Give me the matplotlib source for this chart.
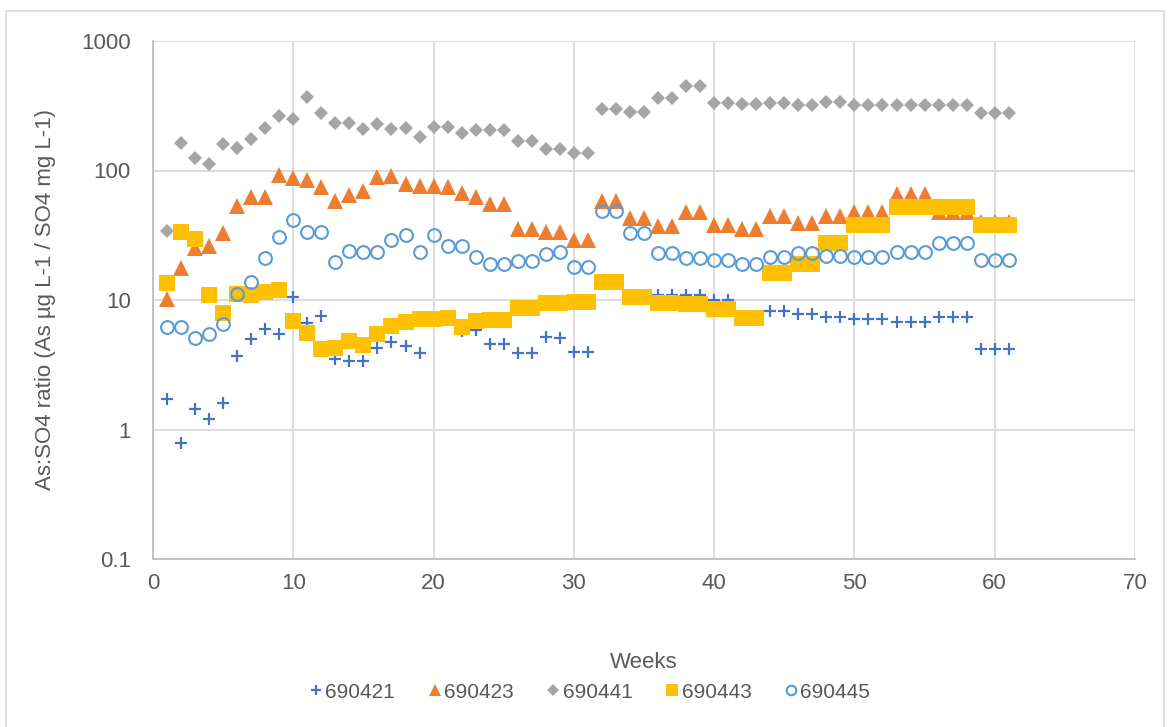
import matplotlib.pyplot as plt
from matplotlib.patches import Rectangle
from matplotlib.ticker import FixedLocator, FixedFormatter, NullLocator

plt.rcParams['font.family'] = ['Liberation Sans', 'DejaVu Sans']

weeks = list(range(1, 62))

s690421 = [1.71, 0.79, 1.43, 1.2, 1.61, 3.71, 4.98, 5.97, 5.43, 10.5,
           6.6, 7.52, 3.48, 3.38, 3.38, 4.28, 4.71, 4.44, 3.88, 7.2,
           7.2, 5.8, 5.9, 4.55, 4.55, 3.88, 3.88, 5.21, 5.06, 3.95,
           3.95, 14.0, 14.0, 10.9, 10.9, 11.0, 11.0, 10.9, 10.9, 10.0,
           10.0, 7.0, 7.0, 8.2, 8.2, 7.8, 7.8, 7.43, 7.43, 7.1,
           7.1, 7.1, 6.8, 6.8, 6.8, 7.35, 7.35, 7.35, 4.16, 4.16,
           4.16]

s690423 = [10.1, 17.8, 25.3, 26.3, 32.7, 53.5, 62.8, 62.8, 92.8, 87.0,
           84.5, 74.0, 58.5, 64.3, 69.0, 88.6, 91.0, 78.7, 75.9, 75.9,
           74.0, 67.4, 62.0, 55.0, 55.0, 35.5, 35.5, 33.3, 33.3, 29.0,
           29.0, 57.8, 57.8, 43.0, 43.0, 37.5, 37.5, 47.6, 47.6, 38.2,
           38.2, 35.3, 35.3, 44.3, 44.3, 39.1, 39.1, 44.3, 44.3, 48.0,
           48.0, 48.0, 65.9, 65.9, 65.9, 48.0, 48.0, 48.0, 39.8, 39.8,
           39.8]

s690441 = [34, 162, 126, 112, 159, 150, 175, 214, 265, 251,
           371, 277, 231, 231, 208, 230, 210, 212, 180, 217,
           217, 194, 206, 206, 206, 169, 169, 146, 146, 136,
           136, 298, 298, 281, 281, 361, 361, 449, 449, 334,
           334, 325, 325, 334, 334, 320, 320, 340, 340, 321,
           321, 321, 323, 323, 323, 321, 321, 321, 280, 280,
           280]

s690443 = [13.5, 33.7, 29.4, 10.9, 7.9, 11.1, 11.0, 11.5, 11.9, 6.9,
           5.56, 4.16, 4.28, 4.82, 4.47, 5.46, 6.33, 6.76, 7.17, 7.1,
           7.3, 6.15, 6.92, 7.0, 7.0, 8.72, 8.72, 9.48, 9.48, 9.7,
           9.7, 13.8, 13.8, 10.5, 10.5, 9.5, 9.5, 9.3, 9.3, 8.5,
           8.5, 7.2, 7.2, 16.1, 16.1, 19.1, 19.1, 27.7, 27.7, 37.9,
           37.9, 37.9, 52.5, 52.5, 52.5, 52.0, 52.0, 52.0, 37.9, 37.9,
           37.9]

s690445 = [6.22, 6.22, 5.06, 5.46, 6.53, 11.1, 13.8, 21.0, 30.8, 41.5,
           33.7, 33.3, 19.5, 23.9, 23.6, 23.6, 29.1, 31.8, 23.6, 31.8,
           26.3, 26.3, 21.6, 19.0, 19.0, 20.0, 20.0, 22.5, 23.6, 17.9,
           17.9, 49.0, 49.0, 32.7, 32.7, 23.0, 23.0, 21.2, 21.2, 20.4,
           20.4, 19.0, 19.0, 21.4, 21.4, 23.2, 23.0, 22.0, 22.0, 21.4,
           21.4, 21.4, 23.6, 23.6, 23.6, 27.7, 27.7, 27.7, 20.4, 20.4,
           20.4]

series_names = ['690421', '690423', '690441', '690443', '690445']
y_ticks = [0.1, 1, 10, 100, 1000]
y_tick_labels = ['0.1', '1', '10', '100', '1000']
x_ticks = [0, 10, 20, 30, 40, 50, 60, 70]

grey_text = '#595959'
grid_col = '#D9D9D9'

fig = plt.figure(figsize=(11.71, 7.27), dpi=100)
# outer chart frame (bottom edge falls outside the canvas)
fig.patches.append(Rectangle((6 / 1171, -0.05), 1158 / 1171, 1.05 - 10.5 / 727,
                             transform=fig.transFigure, fill=False,
                             edgecolor='#D9D9D9', linewidth=1.2))
ax = fig.add_axes([153 / 1171, 1 - 559 / 727, (1135 - 153) / 1171, (559 - 41) / 727])

ax.plot(weeks, s690421, linestyle='none', marker='+', markersize=9,
        markeredgewidth=1.6, color='#4472C4', label=series_names[0])
ax.plot(weeks, s690423, linestyle='none', marker='^', markersize=11,
        color='#ED7D31', markeredgewidth=0, label=series_names[1])
ax.plot(weeks, s690441, linestyle='none', marker='D', markersize=7.6,
        color='#A5A5A5', markeredgewidth=0, label=series_names[2])
ax.plot(weeks, s690443, linestyle='none', marker='s', markersize=11,
        color='#FFC000', markeredgewidth=0, label=series_names[3])
ax.plot(weeks, s690445, linestyle='none', marker='o', markersize=9.2,
        markerfacecolor='none', markeredgecolor='#5B9BD5',
        markeredgewidth=1.5, label=series_names[4])

ax.set_yscale('log')
ax.set_ylim(0.1, 1000)
ax.set_xlim(0, 70)
ax.yaxis.set_major_locator(FixedLocator(y_ticks))
ax.yaxis.set_major_formatter(FixedFormatter(y_tick_labels))
ax.yaxis.set_minor_locator(NullLocator())
ax.set_xticks(x_ticks)

ax.grid(True, which='major', color=grid_col, linewidth=1.3)
ax.set_axisbelow(True)
for side in ['top', 'right']:
    ax.spines[side].set_visible(False)
for side in ['left', 'bottom']:
    ax.spines[side].set_color('#BFBFBF')
    ax.spines[side].set_linewidth(1.3)
ax.tick_params(length=0, labelsize=16, labelcolor=grey_text)
ax.tick_params(axis='x', pad=10)
ax.tick_params(axis='y', pad=16)

ax.set_xlabel('Weeks', fontsize=16, color=grey_text, labelpad=42)
ax.set_ylabel('As:SO4 ratio (As µg L-1 / SO4 mg L-1)', fontsize=16,
              color=grey_text, labelpad=18)

leg = fig.legend(loc='center', bbox_to_anchor=(590 / 1171, 1 - 692 / 727),
                 ncol=5, frameon=False, fontsize=15, handlelength=0.6,
                 handletextpad=0.15, columnspacing=1.6, markerscale=0.75)
for txt in leg.get_texts():
    txt.set_color(grey_text)

fig.savefig('out.png', dpi=100)
